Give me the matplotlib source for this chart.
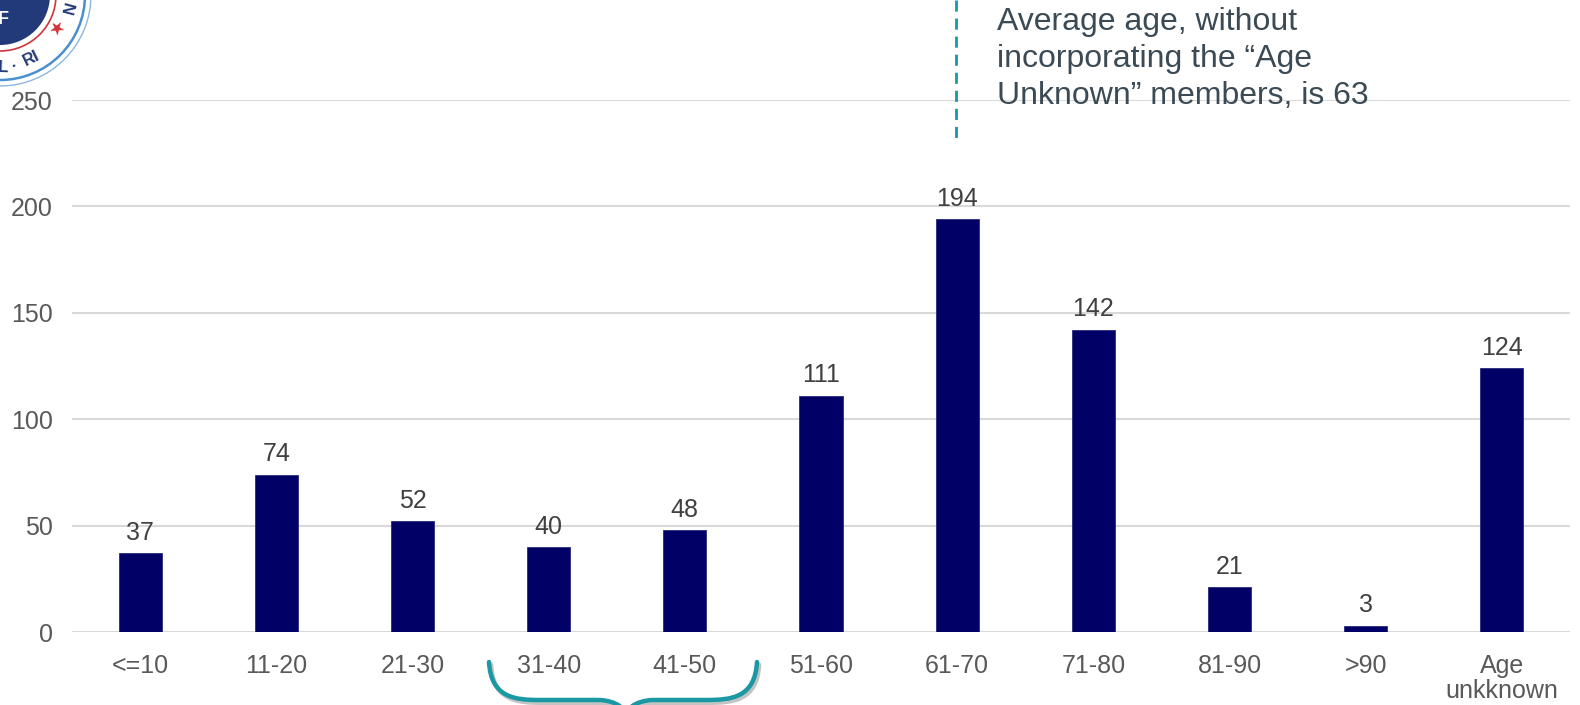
import matplotlib
matplotlib.use("Agg")
import matplotlib.pyplot as plt
from matplotlib.patches import Circle, PathPatch
from matplotlib.path import Path
import matplotlib.patheffects as pe

plt.rcParams['font.family'] = ['Liberation Sans', 'DejaVu Sans']

categories = ["<=10", "11-20", "21-30", "31-40", "41-50", "51-60",
              "61-70", "71-80", "81-90", ">90", "Age\nunkknown"]
members = [37, 74, 52, 40, 48, 111, 194, 142, 21, 3, 124]
yticks = [0, 50, 100, 150, 200, 250]
note = "Average age, without\nincorporating the \u201cAge\nUnknown\u201d members, is 63"

W, H = 1580, 705
fig = plt.figure(figsize=(W / 100, H / 100), dpi=100)

ax = fig.add_axes([72 / W, 1 - 632 / H, (1570 - 72) / W, (632 - 100) / H])
x = list(range(len(categories)))
bars = ax.bar(x, members, width=0.316, color="#000066", edgecolor="#2a2a80",
              linewidth=0.6, zorder=3)
for xi, v in zip(x, members):
    ax.annotate(str(v), (xi, v), xytext=(0, 6), textcoords="offset points",
                ha="center", va="bottom", fontsize=18, color="#404040")

ax.set_xlim(-0.5, len(categories) - 0.5)
ax.set_ylim(0, 250)
ax.set_yticks(yticks)
ax.set_xticks(x)
ax.set_xticklabels(categories, linespacing=1.05)
ax.tick_params(axis="both", length=0, labelsize=18, labelcolor="#595959")
ax.tick_params(axis="y", pad=14)
ax.tick_params(axis="x", pad=16)
ax.grid(axis="y", color="#d9d9d9", linewidth=1.5, zorder=0)
for s in ax.spines.values():
    s.set_visible(False)

# overlay in pixel coordinates for decorations
ov = fig.add_axes([0, 0, 1, 1], facecolor="none")
ov.set_xlim(0, W)
ov.set_ylim(H, 0)
ov.axis("off")

teal = "#1a98a4"
# dashed vertical line
ov.plot([955.5, 955.5], [0, 143], color=teal, linewidth=2, dashes=(4, 2.5))
# annotation text
ov.text(997, 7, note, fontsize=23, color="#3b4a54", va="top", ha="left",
        linespacing=1.3)

# curly brace
codes = [Path.MOVETO, Path.CURVE4, Path.CURVE4, Path.CURVE4,
         Path.LINETO, Path.CURVE4, Path.CURVE4, Path.CURVE4]
verts = [(489, 662), (491, 698), (515, 700), (540, 700),
         (600, 700), (616, 701), (628, 708), (631, 725)]
verts2 = [(757, 662), (755, 698), (731, 700), (706, 700),
          (652, 700), (636, 701), (624, 708), (621, 725)]
shadow = [pe.SimpleLineShadow(offset=(1.5, -2), alpha=0.35, shadow_color="#555555"), pe.Normal()]
for vv in (verts, verts2):
    p = PathPatch(Path(vv, codes), facecolor="none", edgecolor=teal,
                  linewidth=3.2, capstyle="round", path_effects=shadow)
    ov.add_patch(p)

# partial seal logo at top-left
cx, cy = 0, -5
ov.add_patch(Circle((cx, cy), 50, facecolor="#233a7a", edgecolor="none"))
ov.add_patch(Circle((cx, cy), 56, facecolor="none", edgecolor="#d0343a", linewidth=1.2))
ov.add_patch(Circle((cx, cy), 85, facecolor="none", edgecolor="#4a8fd0", linewidth=1.8))
ov.add_patch(Circle((cx, cy), 91, facecolor="none", edgecolor="#8ab8e0", linewidth=1.0))
ov.text(3, 68, "L", fontsize=12, fontweight="bold", color="#233a7a",
        rotation=-2, ha="center", va="center")
ov.text(15, 66, "\u00b7", fontsize=12, fontweight="bold", color="#233a7a",
        rotation=10, ha="center", va="center")
ov.text(31, 58, "RI", fontsize=12, fontweight="bold", color="#233a7a",
        rotation=26, ha="center", va="center")
ov.text(71, 8, "N", fontsize=12, fontweight="bold", color="#233a7a",
        rotation=75, ha="center", va="center")
ov.text(58, 28, "\u2605", fontsize=13, color="#d0343a", ha="center", va="center",
        family=["DejaVu Sans"], rotation=40)
ov.text(3, 20, "F", fontsize=13, fontweight="bold", color="white",
        ha="center", va="center")

fig.savefig("out.png", dpi=100)
